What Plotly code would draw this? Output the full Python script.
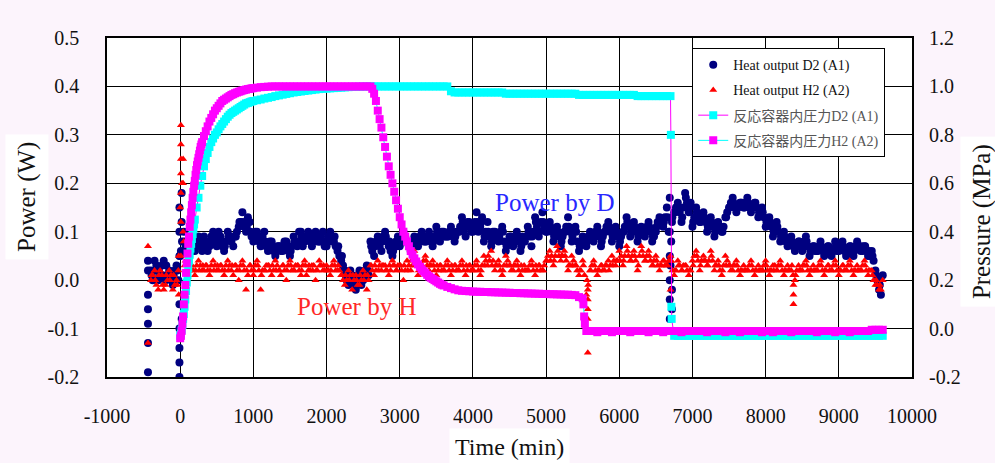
import plotly.graph_objects as go

# ---------------- data ----------------
# heat output sample times (min)
t_heat_a = list(range(-400, 9601, 50))   # -400, -350, ... 9600
t_heat_b = list(range(-375, 9576, 50))   # -375, -325, ... 9575
t_heat_c = list(range(-390, 9561, 50))   # -390, -340, ... 9560

heat_d2_a = [
    0.02, 0.04, 0.00, 0.03, 0.00, 0.02, -0.01, 0.03,
    0.05, 0.10, 0.06, 0.08, 0.06, 0.09, 0.06, 0.08, 0.07, 0.10, 0.07, 0.09, 0.06, 0.10, 0.08, 0.09, 0.11, 0.14, 0.10, 0.12,
    0.08, 0.10, 0.07, 0.10, 0.06, 0.08, 0.05, 0.07, 0.06, 0.08, 0.05, 0.09, 0.07, 0.10, 0.08, 0.10, 0.07, 0.10, 0.08, 0.10,
    0.07, 0.10, 0.08, 0.06, 0.04, 0.02, -0.01, 0.01, -0.02, 0.02, 0.00, 0.03, 0.08, 0.05, 0.09, 0.06, 0.10, 0.07, 0.05, 0.08,
    0.07, 0.10, 0.08, 0.06, 0.09, 0.07, 0.10, 0.08, 0.10, 0.07, 0.11, 0.08, 0.10, 0.09, 0.11, 0.08, 0.10, 0.13, 0.09, 0.12,
    0.10, 0.14, 0.11, 0.08, 0.12, 0.07, 0.10, 0.08, 0.11, 0.06, 0.09, 0.07, 0.10, 0.06, 0.08, 0.11, 0.07, 0.13, 0.09, 0.14,
    0.10, 0.12, 0.08, 0.11, 0.07, 0.10, 0.13, 0.08, 0.11, 0.06, 0.09, 0.07, 0.10, 0.08, 0.11, 0.07, 0.10, 0.12, 0.08, 0.11,
    0.07, 0.10, 0.13, 0.09, 0.12, 0.08, 0.11, 0.09, 0.12, 0.08, 0.10, 0.13, 0.11, 0.15, 0.03, 0.14, 0.16, 0.12, 0.18, 0.14,
    0.11, 0.15, 0.12, 0.14, 0.10, 0.13, 0.09, 0.12, 0.10, 0.13, 0.15, 0.17, 0.14, 0.16, 0.15, 0.17, 0.14, 0.16, 0.13, 0.15,
    0.11, 0.13, 0.09, 0.12, 0.08, 0.10, 0.07, 0.09, 0.06, 0.08, 0.06, 0.09, 0.05, 0.07, 0.06, 0.08, 0.05, 0.07, 0.05, 0.08,
    0.06, 0.08, 0.05, 0.07, 0.05, 0.08, 0.06, 0.07, 0.05, 0.06, 0.02, -0.02, 0.01,
]
heat_d2_b = [
    0.00, 0.03, 0.01, 0.04, 0.01, 0.00, 0.02, 0.00,
    0.08, 0.07, 0.09, 0.06, 0.08, 0.07, 0.09, 0.06, 0.09, 0.08, 0.10, 0.07, 0.08, 0.09, 0.07, 0.10, 0.12, 0.11, 0.13, 0.09,
    0.10, 0.08, 0.09, 0.07, 0.08, 0.06, 0.07, 0.06, 0.08, 0.06, 0.07, 0.08, 0.10, 0.07, 0.09, 0.08, 0.09, 0.08, 0.09, 0.07,
    0.09, 0.08, 0.07, 0.05, 0.03, 0.00, 0.02, -0.01, 0.01, -0.01, 0.02, 0.01, 0.06, 0.08, 0.07, 0.09, 0.08, 0.06, 0.07, 0.09,
    0.08, 0.09, 0.07, 0.08, 0.08, 0.09, 0.08, 0.09, 0.08, 0.09, 0.09, 0.10, 0.09, 0.10, 0.09, 0.10, 0.11, 0.10, 0.12, 0.10,
    0.12, 0.10, 0.13, 0.10, 0.09, 0.10, 0.09, 0.10, 0.08, 0.08, 0.09, 0.08, 0.08, 0.09, 0.09, 0.09, 0.10, 0.11, 0.12, 0.11,
    0.11, 0.10, 0.10, 0.09, 0.09, 0.11, 0.10, 0.10, 0.08, 0.08, 0.08, 0.09, 0.09, 0.10, 0.09, 0.09, 0.11, 0.10, 0.10, 0.09,
    0.09, 0.11, 0.11, 0.10, 0.10, 0.10, 0.10, 0.11, 0.10, 0.09, 0.12, 0.12, 0.13, 0.10, 0.13, 0.15, 0.14, 0.15, 0.16, 0.16,
    0.13, 0.13, 0.13, 0.12, 0.12, 0.11, 0.11, 0.11, 0.11, 0.14, 0.16, 0.15, 0.15, 0.16, 0.16, 0.15, 0.15, 0.15, 0.14, 0.13,
    0.12, 0.11, 0.10, 0.10, 0.09, 0.08, 0.08, 0.07, 0.07, 0.07, 0.08, 0.07, 0.06, 0.06, 0.07, 0.06, 0.06, 0.06, 0.06, 0.06,
    0.07, 0.06, 0.06, 0.06, 0.07, 0.07, 0.06, 0.06, 0.05, 0.04, 0.00, -0.03,
]
heat_d2_c = [
    0.01, 0.02, 0.02, 0.01, 0.03, 0.01, 0.01, 0.02,
    0.06, 0.08, 0.07, 0.07, 0.07, 0.08, 0.07, 0.07, 0.08, 0.09, 0.08, 0.08, 0.07, 0.09, 0.09, 0.09, 0.12, 0.12, 0.11, 0.10,
    0.09, 0.09, 0.08, 0.08, 0.07, 0.07, 0.06, 0.07, 0.07, 0.07, 0.06, 0.08, 0.08, 0.09, 0.09, 0.09, 0.08, 0.09, 0.08, 0.08,
    0.08, 0.09, 0.09, 0.07, 0.05, 0.01, 0.01, 0.00, 0.00, 0.00, 0.01, 0.02, 0.07, 0.07, 0.08, 0.08, 0.09, 0.08, 0.06, 0.07,
    0.08, 0.08, 0.08, 0.07, 0.08, 0.08, 0.09, 0.08, 0.09, 0.08, 0.10, 0.09, 0.09, 0.09, 0.10, 0.09, 0.10, 0.12, 0.11, 0.11,
    0.11, 0.12, 0.12, 0.09, 0.10, 0.08, 0.09, 0.09, 0.10, 0.07, 0.08, 0.08, 0.09, 0.07, 0.08, 0.10, 0.09, 0.12, 0.10, 0.12,
    0.10, 0.11, 0.09, 0.10, 0.08, 0.10, 0.11, 0.09, 0.10, 0.07, 0.08, 0.08, 0.09, 0.09, 0.10, 0.08, 0.10, 0.11, 0.09, 0.10,
    0.08, 0.10, 0.12, 0.10, 0.11, 0.09, 0.10, 0.10, 0.11, 0.09, 0.11, 0.12, 0.12, 0.13, 0.08, 0.14, 0.15, 0.13, 0.17, 0.15,
    0.12, 0.14, 0.12, 0.13, 0.11, 0.12, 0.10, 0.11, 0.10, 0.13, 0.15, 0.16, 0.15, 0.16, 0.15, 0.16, 0.15, 0.16, 0.14, 0.14,
    0.12, 0.12, 0.10, 0.11, 0.09, 0.09, 0.08, 0.08, 0.07, 0.08, 0.07, 0.08, 0.06, 0.07, 0.06, 0.07, 0.06, 0.07, 0.06, 0.07,
    0.07, 0.07, 0.06, 0.07, 0.06, 0.07, 0.07, 0.07, 0.06, 0.05, 0.01, -0.01,
]
# scattered transient readings of D2 heat output
d2_extra_t = [-440, -440, -440, -440, -440, -440, -440,
              -10, -10, -10, -10, -10, -10, -10, -10,
              20, 20, 20,
              6690, 6690, 6690, 6690, 6690, 6690,
              6720, 6720, 6720]
d2_extra_v = [0.04, 0.02, -0.03, -0.06, -0.09, -0.13, -0.19,
              0.15, 0.10, 0.05, -0.05, -0.10, -0.14, -0.17, -0.20,
              0.18, 0.12, -0.08,
              0.17, 0.10, 0.05, 0.00, -0.04, -0.08,
              0.12, -0.02, -0.06]

heat_h2_a = [
    0.00, 0.02, -0.02, 0.01, -0.01, 0.02, -0.02, 0.00,
    0.15, 0.08, 0.02, 0.03, 0.01, 0.04, 0.02, 0.03, 0.01, 0.04, 0.02, 0.03, 0.01, 0.04, 0.02, 0.03, 0.00, 0.04, -0.02, 0.03,
    0.01, 0.04, -0.02, 0.02, 0.03, 0.01, 0.04, 0.02, 0.03, 0.00, 0.04, 0.02, 0.03, 0.01, 0.04, 0.02, 0.03, 0.00, 0.04, 0.02,
    0.03, 0.01, 0.04, 0.02, 0.01, -0.01, 0.02, -0.02, 0.01, -0.01, 0.02, -0.02, 0.03, 0.01, 0.04, 0.02, 0.03, 0.01, 0.04, 0.02,
    0.03, 0.00, 0.04, 0.02, 0.06, 0.01, 0.03, 0.05, 0.02, 0.04, 0.01, 0.03, 0.02, 0.04, 0.01, 0.03, 0.02, 0.04, 0.01, 0.03,
    0.02, 0.04, 0.01, 0.05, 0.03, 0.06, 0.02, 0.04, 0.01, 0.05, 0.03, 0.02, 0.04, 0.01, 0.03, 0.02, 0.04, 0.01, 0.03, 0.02,
    0.04, 0.06, 0.03, 0.07, 0.04, 0.06, 0.02, 0.05, 0.03, 0.01, 0.04, -0.03, 0.02, 0.04, 0.01, 0.03, 0.02, 0.04, 0.05, 0.03,
    0.06, 0.03, 0.07, 0.04, 0.06, 0.02, 0.07, 0.04, 0.06, 0.03, 0.05, 0.02, 0.04, 0.03, 0.05, 0.01, 0.04, 0.02, 0.03, 0.01,
    0.04, 0.06, 0.02, 0.05, 0.03, 0.06, 0.02, 0.04, 0.01, 0.05, 0.03, 0.02, 0.04, 0.01, 0.03, 0.02, 0.04, 0.01, 0.03, 0.02,
    0.04, 0.01, 0.03, 0.02, 0.04, 0.01, 0.03, 0.02, 0.00, 0.03, 0.02, 0.04, 0.01, 0.03, 0.02, 0.04, 0.01, 0.03, 0.02, 0.04,
    0.01, 0.03, 0.02, 0.04, 0.01, 0.03, 0.02, 0.04, 0.01, 0.02, -0.01, -0.02, 0.00,
]
heat_h2_b = [
    0.01, -0.01, 0.02, -0.02, 0.00, 0.01, -0.01, 0.02,
    0.20, 0.04, 0.02, 0.02, 0.03, 0.03, 0.02, 0.02, 0.03, 0.03, 0.02, 0.02, 0.03, 0.03, 0.01, 0.02, 0.03, 0.02, 0.01, 0.02,
    0.03, 0.02, 0.02, 0.03, 0.02, 0.02, 0.03, 0.01, 0.02, 0.03, 0.02, 0.03, 0.02, 0.03, 0.01, 0.02, 0.03, 0.02, 0.03, 0.02,
    0.02, 0.03, 0.02, 0.02, 0.00, 0.00, 0.01, 0.00, -0.01, 0.00, 0.01, 0.00, 0.02, 0.02, 0.03, 0.03, 0.02, 0.02, 0.03, 0.03,
    0.02, 0.02, 0.03, 0.03, 0.04, 0.03, 0.04, 0.03, 0.03, 0.02, 0.02, 0.02, 0.03, 0.02, 0.02, 0.02, 0.03, 0.02, 0.02, 0.02,
    0.03, 0.02, 0.03, 0.04, 0.04, 0.04, 0.03, 0.02, 0.03, 0.04, 0.02, 0.03, 0.02, 0.02, 0.02, 0.03, 0.02, 0.02, 0.02, 0.03,
    0.05, 0.05, 0.05, 0.05, 0.05, 0.04, 0.03, 0.04, 0.02, 0.02, 0.01, -0.01, 0.03, 0.02, 0.02, 0.02, 0.03, 0.03, 0.04, 0.04,
    0.05, 0.05, 0.05, 0.05, 0.04, 0.05, 0.05, 0.05, 0.04, 0.04, 0.03, 0.03, 0.03, 0.04, 0.02, 0.02, 0.03, 0.03, 0.02, 0.02,
    0.05, 0.04, 0.04, 0.04, 0.04, 0.04, 0.03, 0.02, 0.03, 0.04, 0.02, 0.03, 0.02, 0.02, 0.02, 0.03, 0.02, 0.02, 0.02, 0.03,
    0.02, 0.02, 0.03, 0.03, 0.02, 0.02, 0.02, 0.01, 0.02, 0.02, 0.03, 0.02, 0.02, 0.02, 0.03, 0.02, 0.02, 0.02, 0.03, 0.02,
    0.02, 0.02, 0.03, 0.02, 0.02, 0.02, 0.03, 0.02, 0.02, 0.00, -0.01, -0.02,
]
heat_h2_c = [
    0.01, 0.00, 0.01, -0.01, 0.01, 0.00, 0.01, -0.01,
    0.25, 0.03, 0.02, 0.03, 0.02, 0.02, 0.03, 0.03, 0.02, 0.02, 0.03, 0.03, 0.02, 0.02, 0.03, 0.03, 0.02, 0.03, 0.02, 0.03,
    0.02, 0.03, 0.01, 0.02, 0.03, 0.03, 0.02, 0.02, 0.03, 0.02, 0.03, 0.02, 0.03, 0.02, 0.03, 0.03, 0.02, 0.02, 0.03, 0.03,
    0.02, 0.02, 0.03, 0.03, 0.01, 0.01, 0.00, 0.01, 0.00, 0.01, 0.00, 0.01, 0.03, 0.03, 0.02, 0.03, 0.02, 0.03, 0.03, 0.02,
    0.03, 0.03, 0.02, 0.04, 0.03, 0.02, 0.03, 0.04, 0.03, 0.03, 0.03, 0.03, 0.02, 0.03, 0.03, 0.03, 0.02, 0.03, 0.03, 0.03,
    0.02, 0.03, 0.02, 0.03, 0.05, 0.03, 0.03, 0.03, 0.02, 0.03, 0.03, 0.03, 0.03, 0.03, 0.02, 0.02, 0.03, 0.03, 0.03, 0.02,
    0.04, 0.04, 0.04, 0.06, 0.05, 0.05, 0.03, 0.03, 0.03, 0.02, 0.03, 0.00, 0.02, 0.03, 0.02, 0.03, 0.03, 0.02, 0.03, 0.04,
    0.04, 0.04, 0.06, 0.04, 0.05, 0.03, 0.06, 0.04, 0.05, 0.03, 0.04, 0.03, 0.04, 0.03, 0.04, 0.02, 0.03, 0.02, 0.03, 0.02,
    0.03, 0.05, 0.03, 0.04, 0.03, 0.05, 0.03, 0.03, 0.02, 0.03, 0.03, 0.03, 0.03, 0.02, 0.02, 0.02, 0.03, 0.02, 0.02, 0.02,
    0.03, 0.02, 0.02, 0.02, 0.03, 0.02, 0.02, 0.03, 0.01, 0.02, 0.03, 0.03, 0.02, 0.02, 0.02, 0.03, 0.02, 0.03, 0.02, 0.03,
    0.02, 0.03, 0.02, 0.03, 0.02, 0.02, 0.02, 0.03, 0.02, 0.01, 0.00, -0.01,
]
h2_extra_t = [-440, -440, -20, -20, 10, 10, 10, 10, 10, 10, 40, 40, 40,
              5570, 5570, 5570, 5570, 5570, 6700, 6700, 8380, 8380, 8380]
h2_extra_v = [0.07, -0.13, 0.05, -0.03, 0.32, 0.28, 0.22, 0.18, 0.12, 0.05, 0.25, 0.20, 0.10,
              -0.02, -0.04, -0.06, -0.08, -0.15, 0.04, -0.02, -0.01, -0.03, -0.05]

# vessel pressure, D2 run (MPa)
t_press_d2 = (list(range(0, 200, 10)) + list(range(200, 1000, 25)) + list(range(1000, 6701, 50))
              + [6705, 6712, 6716] + list(range(6750, 9601, 50)))
press_d2 = [
    -0.03, -0.02, -0.005, 0.015, 0.04, 0.06, 0.09, 0.12, 0.155, 0.19, 0.22, 0.25, 0.28, 0.305, 0.33, 0.35, 0.37, 0.39, 0.41, 0.43,
    0.45, 0.50, 0.54, 0.59, 0.63, 0.67, 0.70, 0.725, 0.75, 0.77, 0.785, 0.80, 0.81, 0.823, 0.835, 0.845,
    0.855, 0.865, 0.875, 0.883, 0.89, 0.895, 0.90, 0.905, 0.91, 0.915, 0.92, 0.925, 0.93, 0.932, 0.935, 0.938,
    0.94, 0.943, 0.946, 0.95, 0.953, 0.956, 0.96, 0.963, 0.966, 0.969, 0.972, 0.975, 0.977, 0.979, 0.981, 0.983, 0.985, 0.987, 0.989, 0.99,
    0.991, 0.992, 0.993, 0.994, 0.995, 0.996, 0.997, 0.998, 0.998, 0.999, 0.999, 1.0,
    1.0, 1.0, 1.0, 1.0, 1.0, 1.0, 1.0, 1.0, 1.0, 1.0, 1.0, 1.0, 1.0, 1.0, 1.0, 1.0, 1.0, 1.0, 1.0, 1.0, 1.0, 1.0,
    0.98, 0.975,
    0.975, 0.975, 0.975, 0.975, 0.975, 0.975, 0.975, 0.975, 0.975, 0.975, 0.975, 0.975, 0.975,
    0.97, 0.97, 0.97, 0.97, 0.97, 0.97, 0.97, 0.97, 0.97, 0.97, 0.97, 0.97, 0.97, 0.97, 0.97, 0.97, 0.97, 0.97, 0.97, 0.97,
    0.965, 0.965, 0.965, 0.965, 0.965, 0.965, 0.965, 0.965, 0.965, 0.965, 0.965, 0.965, 0.965, 0.965, 0.965, 0.965,
    0.96, 0.96, 0.96, 0.96, 0.96, 0.96, 0.96, 0.96, 0.96, 0.96,
    0.80, 0.09, 0.04,
    -0.03, -0.03, -0.03, -0.03, -0.03, -0.03, -0.03, -0.03, -0.03, -0.03,
    -0.03, -0.03, -0.03, -0.03, -0.03, -0.03, -0.03, -0.03, -0.03, -0.03,
    -0.03, -0.03, -0.03, -0.03, -0.03, -0.03, -0.03, -0.03, -0.03, -0.03,
    -0.03, -0.03, -0.03, -0.03, -0.03, -0.03, -0.03, -0.03, -0.03, -0.03,
    -0.03, -0.03, -0.03, -0.03, -0.03, -0.03, -0.03, -0.03, -0.03, -0.03,
    -0.03, -0.03, -0.03, -0.03, -0.03, -0.03, -0.03, -0.03,
]

# vessel pressure, H2 run (MPa)
t_press_h2 = (list(range(0, 300, 10)) + list(range(300, 1000, 25)) + list(range(1000, 2600, 50))
              + list(range(2600, 3600, 25)) + list(range(3600, 5501, 50)) + [5510, 5520, 5530]
              + list(range(5550, 9601, 50)))
press_h2 = [
    -0.04, -0.03, -0.01, 0.02, 0.05, 0.10, 0.14, 0.18, 0.23, 0.27, 0.31, 0.35, 0.38, 0.42, 0.45,
    0.48, 0.51, 0.54, 0.565, 0.59, 0.61, 0.635, 0.655, 0.675, 0.69, 0.705, 0.72, 0.735, 0.75, 0.76,
    0.77, 0.795, 0.815, 0.835, 0.855, 0.87, 0.885, 0.90, 0.91, 0.92, 0.93, 0.94, 0.945, 0.95,
    0.955, 0.96, 0.965, 0.968, 0.972, 0.975, 0.978, 0.98, 0.983, 0.985, 0.987, 0.989, 0.99, 0.992,
    0.993, 0.995, 0.997, 0.998, 0.999, 1.0, 1.0, 1.0, 1.0, 1.0, 1.0, 1.0, 1.0, 1.0, 1.0, 1.0,
    1.0, 1.0, 1.0, 1.0, 1.0, 1.0, 1.0, 1.0, 1.0, 1.0, 1.0, 1.0, 1.0, 1.0, 1.0, 1.0,
    1.0, 0.99, 0.97, 0.94, 0.90, 0.865, 0.83, 0.79, 0.75, 0.71, 0.67, 0.635, 0.60, 0.565, 0.53, 0.495, 0.46, 0.43, 0.40, 0.38,
    0.36, 0.34, 0.32, 0.305, 0.29, 0.277, 0.265, 0.255, 0.245, 0.237, 0.23, 0.222, 0.215, 0.21, 0.205, 0.20, 0.195, 0.19, 0.185, 0.181,
    0.178, 0.172, 0.167, 0.162, 0.158, 0.156, 0.155, 0.154, 0.153,
    0.152, 0.152, 0.151, 0.151, 0.150, 0.150, 0.149, 0.149, 0.148, 0.148,
    0.147, 0.147, 0.146, 0.146, 0.145, 0.145, 0.144, 0.144, 0.143, 0.143,
    0.142, 0.142, 0.141, 0.141, 0.140, 0.140, 0.139, 0.138, 0.130, 0.125,
    0.10, 0.05, 0.02,
    -0.01, -0.01, -0.01, -0.015, -0.01, -0.01, -0.01, -0.015, -0.01, -0.01,
    -0.01, -0.01, -0.015, -0.01, -0.01, -0.01, -0.01, -0.015, -0.01, -0.01,
    -0.01, -0.015, -0.01, -0.01, -0.01, -0.01, -0.015, -0.01, -0.01, -0.01,
    -0.01, -0.01, -0.01, -0.015, -0.01, -0.01, -0.01, -0.01, -0.015, -0.01,
    -0.01, -0.01, -0.015, -0.01, -0.01, -0.01, -0.01, -0.01, -0.015, -0.01,
    -0.01, -0.015, -0.01, -0.01, -0.01, -0.01, -0.015, -0.01, -0.01, -0.01,
    -0.01, -0.01, -0.01, -0.015, -0.01, -0.01, -0.01, -0.01, -0.015, -0.01,
    -0.01, -0.01, -0.015, -0.01, -0.01, -0.01, -0.01, -0.01, -0.005, -0.005,
    -0.005, -0.005,
]

x_tick_vals = [-1000, 0, 1000, 2000, 3000, 4000, 5000, 6000, 7000, 8000, 9000, 10000]
x_tick_text = ["-1000", "0", "1000", "2000", "3000", "4000", "5000", "6000", "7000", "8000", "9000", "10000"]
y_tick_vals = [-0.2, -0.1, 0.0, 0.1, 0.2, 0.3, 0.4, 0.5]
y_tick_text = ["-0.2", "-0.1", "0.0", "0.1", "0.2", "0.3", "0.4", "0.5"]
y2_tick_vals = [-0.2, 0.0, 0.2, 0.4, 0.6, 0.8, 1.0, 1.2]
y2_tick_text = ["-0.2", "0.0", "0.2", "0.4", "0.6", "0.8", "1.0", "1.2"]

for arr, tt in ((heat_d2_a, t_heat_a), (heat_h2_a, t_heat_a), (heat_d2_b, t_heat_b),
                (heat_h2_b, t_heat_b), (heat_d2_c, t_heat_c), (heat_h2_c, t_heat_c),
                (press_d2, t_press_d2), (press_h2, t_press_h2)):
    assert len(arr) == len(tt), (len(arr), len(tt))

SERIF = "Liberation Serif, Times New Roman, serif"
LEGFONT = "Liberation Serif, Noto Sans CJK JP, serif"

fig = go.Figure()
fig.add_trace(go.Scatter(
    x=t_heat_a + t_heat_b + t_heat_c + d2_extra_t,
    y=heat_d2_a + heat_d2_b + heat_d2_c + d2_extra_v, mode="markers",
    name="Heat output D2 (A1)", legendgroup="a",
    marker=dict(symbol="circle", size=8, color="#000080"),
))
fig.add_trace(go.Scatter(
    x=t_heat_a + t_heat_b + t_heat_c + h2_extra_t,
    y=heat_h2_a + heat_h2_b + heat_h2_c + h2_extra_v, mode="markers",
    name="Heat output H2 (A2)", legendgroup="b",
    marker=dict(symbol="triangle-up", size=7, color="#FF0000"),
))
fig.add_trace(go.Scatter(
    x=t_press_d2, y=press_d2, mode="lines+markers", yaxis="y2",
    name='<span style="color:#555">反応容器内圧力D2 (A1)</span>', legendgroup="c",
    line=dict(color="#FF00FF", width=1),
    marker=dict(symbol="square", size=8, color="#00FFFF"),
))
fig.add_trace(go.Scatter(
    x=t_press_h2, y=press_h2, mode="lines+markers", yaxis="y2",
    name='<span style="color:#555">反応容器内圧力H2 (A2)</span>', legendgroup="d",
    line=dict(color="#00FFFF", width=1),
    marker=dict(symbol="square", size=8, color="#FF00FF"),
))

tickfont = dict(family=SERIF, size=20, color="#111111")

fig.update_layout(
    width=995, height=463,
    margin=dict(l=107, r=83, t=38, b=86),
    paper_bgcolor="#FCF4FC", plot_bgcolor="white",
    showlegend=True,
    legend=dict(
        x=0.727, y=0.97, xanchor="left", yanchor="top",
        bgcolor="white", bordercolor="black", borderwidth=1,
        font=dict(family=LEGFONT, size=14, color="#111111"),
        tracegroupgap=4, itemwidth=30, itemsizing="trace",
    ),
    xaxis=dict(
        range=[-1000, 10000], tickvals=x_tick_vals, ticktext=x_tick_text,
        showgrid=True, gridcolor="black", gridwidth=1,
        showline=True, linecolor="black", linewidth=1.5, mirror=True,
        zeroline=False, ticks="", tickfont=tickfont, ticklabelstandoff=20,
    ),
    yaxis=dict(
        range=[-0.2, 0.5], tickvals=y_tick_vals, ticktext=y_tick_text,
        showgrid=True, gridcolor="black", gridwidth=1,
        showline=True, linecolor="black", linewidth=1.5, mirror=True,
        zeroline=False, ticks="", tickfont=tickfont, ticklabelstandoff=22,
    ),
    yaxis2=dict(
        range=[-0.2, 1.2], tickvals=y2_tick_vals, ticktext=y2_tick_text,
        overlaying="y", side="right", showgrid=False, zeroline=False,
        showline=False, ticks="", tickfont=tickfont, ticklabelstandoff=16,
    ),
    annotations=[
        dict(text="Power (W)", xref="paper", yref="paper", x=-0.0994, y=0.531,
             xanchor="center", yanchor="middle",
             textangle=-90, showarrow=False, bgcolor="white", borderpad=7,
             font=dict(family=SERIF, size=25, color="#111111")),
        dict(text="Pressure (MPa)", xref="paper", yref="paper", x=1.087, y=0.457,
             xanchor="center", yanchor="middle",
             textangle=-90, showarrow=False, bgcolor="white", borderpad=7,
             font=dict(family=SERIF, size=25, color="#111111")),
        dict(text="Time (min)", xref="paper", yref="paper", x=0.5006, y=-0.2065,
             xanchor="center", yanchor="middle",
             showarrow=False, bgcolor="white", borderpad=5,
             font=dict(family=SERIF, size=24, color="#111111")),
        dict(text="Power by D", xref="x", yref="y", x=5116, y=0.161,
             xanchor="center", yanchor="middle",
             showarrow=False, font=dict(family=SERIF, size=25, color="#2828FF")),
        dict(text="Power by H", xref="x", yref="y", x=2408, y=-0.054,
             xanchor="center", yanchor="middle",
             showarrow=False, font=dict(family=SERIF, size=25, color="#FF2828")),
    ],
)

fig.write_html(
    "out.html",
    config={"displayModeBar": False},
    post_script="document.body.style.margin='0px';document.body.style.background='#FCF4FC';",
)
